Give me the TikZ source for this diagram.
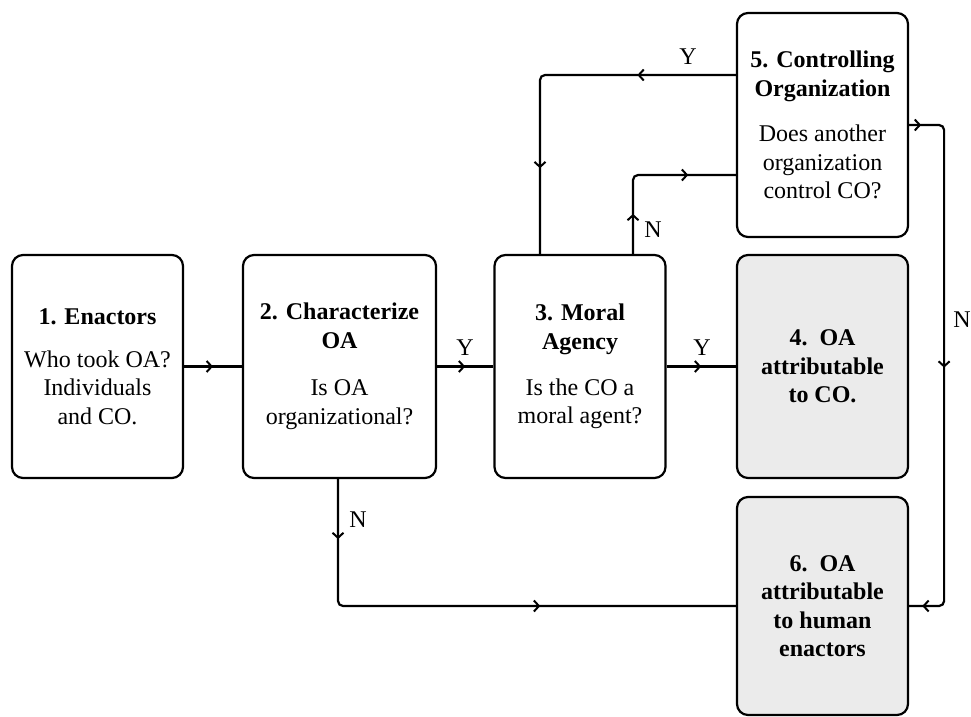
\documentclass[tikz,border=0pt]{standalone}
\usepackage{fontspec}
\setmainfont{Liberation Serif}
\usetikzlibrary{arrows.meta,decorations.markings}
\begin{document}
\begin{tikzpicture}[x=1pt,y=-1pt,
  box/.style={draw, line width=2.2pt, rounded corners=11pt, minimum width=171pt, minimum height=223pt, align=center, inner sep=0pt, font=\fontsize{24}{28.5}\selectfont},
  endbox/.style={box, fill=black!8, font=\fontsize{24}{28.5}\selectfont\bfseries},
  conn/.style={line width=2.2pt, rounded corners=5pt},
  am/.style={postaction={decorate,decoration={markings,mark=at position #1 with {\arrow{Straight Barb[length=5pt,width=11pt,line width=2pt]}}}}},
  lab/.style={font=\fontsize{24}{28.5}\selectfont, inner sep=0pt}]
\useasboundingbox (0,0) rectangle (971,716);

\node[box] (n1) at (97.5,366.5) {\textbf{1. Enactors}\\[14.5pt] Who took OA?\\ Individuals\\ and CO.};
\node[box, minimum width=193pt] (n2) at (339.5,366.5) {\textbf{2. Characterize}\\ \textbf{OA}\\[19pt] Is OA\\ organizational?};
\node[box] (n3) at (580,366.5) {\textbf{3. Moral}\\ \textbf{Agency}\\[17.5pt] Is the CO a\\ moral agent?};
\node[endbox] (n4) at (822.5,366.5) {4.\hspace{0.5em}OA\\ attributable\\ to CO.};
\node[box, minimum height=224pt] (n5) at (822.5,125) {\textbf{5. Controlling}\\ \textbf{Organization}\\[17pt] Does another\\ organization\\ control CO?};
\node[endbox, minimum height=218pt] (n6) at (822.5,606) {6.\hspace{0.5em}OA\\ attributable\\ to human\\ enactors};

% straight connectors
\draw[conn, am=0.5] (n1) -- (n2);
\draw[conn, am=0.5] (n2) -- (n3);
\draw[conn, am=0.5] (n3) -- (n4);

% 3 -> 5 (N)
\draw[conn, am=40pt, am=132pt] ([xshift=53pt]n3.north) |- ([yshift=-50pt]n5.west);
% 5 -> 3 (Y)
\draw[conn, am=98.5pt, am=287pt] ([yshift=50pt]n5.west) -| ([xshift=-40pt]n3.north);
% 5 -> 6 (N)
\draw[conn, am=12pt, am=275.5pt, am=533.5pt] (n5.east) -- ++(35,0) |- (n6.east);
% 2 -> 6 (N)
\draw[conn, am=60pt, am=327pt] ([xshift=-1.5pt]n2.south) |- (n6.west);

% labels
\node[lab] (y23) at (465,348) {Y};
\node[lab] (y34) at (702,348) {Y};
\node[lab] (y53) at (688,57) {Y};
\node[lab] (n35) at (653,230) {N};
\node[lab] (n56) at (962,320) {N};
\node[lab] (n26) at (358,520) {N};
\end{tikzpicture}
\end{document}
